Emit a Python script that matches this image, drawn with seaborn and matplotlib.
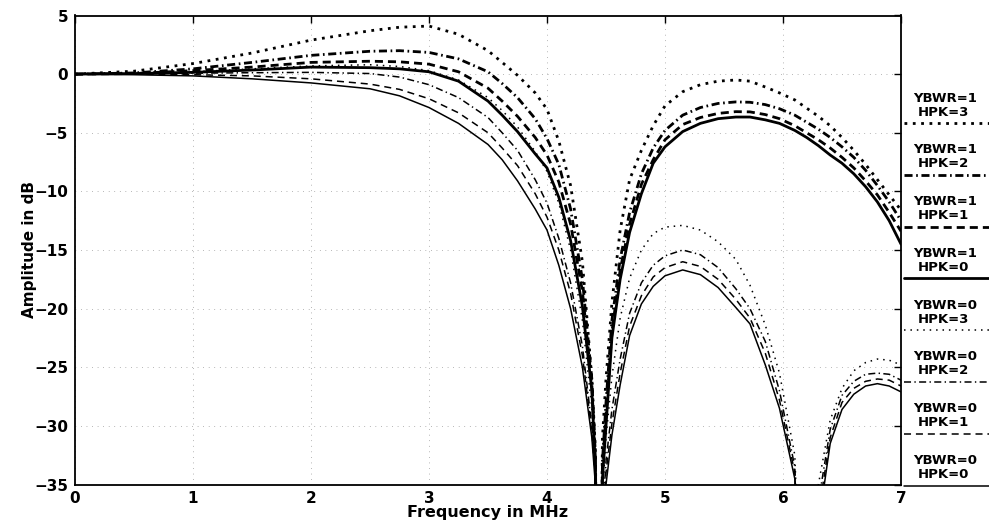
import matplotlib
matplotlib.use("Agg")
import matplotlib.pyplot as plt
import seaborn as sns
from matplotlib.lines import Line2D

# Frequency grid (MHz) shared by all responses
freq_mhz = [0.0, 0.5, 1.0, 1.5, 2.0, 2.5, 2.75, 3.0, 3.25, 3.5, 3.62, 3.75, 3.9, 4.0, 4.1,
            4.2, 4.3, 4.38, 4.41, 4.44, 4.47, 4.5, 4.55, 4.62, 4.7, 4.8, 4.9, 5.0, 5.15,
            5.3, 5.45, 5.6, 5.72, 5.85, 5.97, 6.1, 6.2, 6.3, 6.4, 6.5, 6.6, 6.7, 6.8,
            6.9, 7.0]

# Amplitude responses in dB (YBWR = bandwidth switch, HPK = peaking setting)
ybwr1_hpk3 = [0.0, 0.25, 0.9, 1.8, 2.9, 3.7, 4.0, 4.1, 3.4, 2.0, 1.0, -0.1, -1.6, -3.0, -5.7,
              -9.5, -16.0, -26.0, -32.0, -60.0, -31.0, -26.0, -19.5, -13.3, -9.0, -6.5,
              -4.4, -2.7, -1.5, -0.9, -0.6, -0.5, -0.6, -1.1, -1.6, -2.2, -2.9, -3.6,
              -4.4, -5.4, -6.5, -7.7, -9.0, -10.3, -11.6]
ybwr1_hpk2 = [0.0, 0.1, 0.45, 1.0, 1.6, 1.95, 2.0, 1.85, 1.3, 0.2, -0.8, -2.0, -3.8, -5.5, -7.7,
              -11.5, -17.5, -26.0, -32.5, -60.0, -33.0, -28.0, -21.0, -15.8, -11.8, -8.5,
              -6.3, -4.8, -3.5, -2.85, -2.5, -2.37, -2.4, -2.6, -2.95, -3.5, -4.1, -4.7,
              -5.4, -6.2, -7.1, -8.2, -9.5, -10.9, -12.5]
ybwr1_hpk1 = [0.0, 0.05, 0.3, 0.6, 1.0, 1.1, 1.05, 0.85, 0.2, -1.2, -2.3, -3.6, -5.4, -6.9, -9.2,
              -12.8, -18.5, -26.5, -33.0, -60.0, -33.5, -29.0, -22.0, -16.7, -12.8, -9.4,
              -7.3, -5.6, -4.3, -3.7, -3.35, -3.2, -3.22, -3.45, -3.8, -4.4, -5.0, -5.6,
              -6.3, -7.1, -8.0, -9.1, -10.3, -11.8, -13.4]
ybwr1_hpk0 = [0.0, 0.05, 0.15, 0.35, 0.6, 0.55, 0.45, 0.2, -0.6, -2.3, -3.5, -4.9, -6.8, -8.0,
              -10.5, -14.2, -19.8, -27.0, -33.5, -60.0, -34.5, -30.0, -22.5, -17.5, -13.5,
              -10.2, -7.6, -6.2, -4.9, -4.2, -3.8, -3.66, -3.66, -3.9, -4.2, -4.8, -5.4,
              -6.1, -6.9, -7.6, -8.5, -9.6, -10.9, -12.5, -14.5]
ybwr0_hpk3 = [0.0, 0.05, 0.2, 0.45, 0.7, 0.8, 0.65, 0.3, -0.5, -2.0, -3.1, -4.5, -6.6, -8.3,
              -11.0, -15.0, -21.0, -28.5, -33.0, -60.0, -36.0, -31.0, -25.8, -20.8, -17.4,
              -15.0, -13.6, -13.05, -12.9, -13.3, -14.3, -15.8, -18.0, -21.4, -25.5, -32.5,
              -60.0, -35.0, -29.5, -26.8, -25.3, -24.6, -24.3, -24.4, -24.8]
ybwr0_hpk2 = [0.0, 0.02, 0.08, 0.12, 0.15, 0.05, -0.25, -0.9, -2.0, -3.7, -5.0, -6.5, -9.0,
              -11.0, -14.0, -17.8, -23.2, -30.0, -34.0, -60.0, -38.0, -33.0, -28.6, -24.3,
              -20.4, -17.8, -16.3, -15.5, -15.0, -15.4, -16.5, -18.3, -20.0, -22.8, -27.0,
              -33.5, -60.0, -36.5, -30.3, -27.4, -26.2, -25.6, -25.5, -25.6, -26.1]
ybwr0_hpk1 = [0.0, 0.0, -0.05, -0.15, -0.4, -0.85, -1.3, -2.1, -3.3, -5.0, -6.3, -7.8, -10.2,
              -12.2, -15.0, -18.7, -24.0, -30.5, -34.5, -60.0, -39.0, -34.0, -29.8, -25.5,
              -21.5, -18.9, -17.3, -16.5, -16.0, -16.4, -17.5, -19.2, -20.8, -23.8, -27.8,
              -34.0, -60.0, -37.5, -31.0, -28.0, -26.8, -26.2, -26.0, -26.1, -26.6]
ybwr0_hpk0 = [0.0, -0.05, -0.15, -0.4, -0.75, -1.25, -1.85, -2.85, -4.2, -6.0, -7.3, -9.1,
              -11.5, -13.3, -16.3, -20.0, -25.0, -31.0, -35.0, -60.0, -40.0, -35.0, -30.8,
              -26.5, -22.3, -19.6, -18.1, -17.2, -16.7, -17.1, -18.2, -19.9, -21.3, -24.8,
              -28.5, -34.5, -60.0, -38.5, -31.5, -28.6, -27.3, -26.6, -26.4, -26.6, -27.1]

x_ticks = [0, 1, 2, 3, 4, 5, 6, 7]
y_ticks = [5, 0, -5, -10, -15, -20, -25, -30, -35]

# Line patterns: thick for YBWR=1, thin for YBWR=0
thick_dot = (0, (1.0, 2.0))
thick_dash = (0, (2.9, 1.8))
thick_dashdot = (0, (2.9, 1.3, 0.6, 1.3))
thin_dot = (0, (1.0, 3.2))
thin_dash = (0, (4.6, 3.2))
thin_dashdot = (0, (4.6, 2.2, 0.9, 2.2))

# (values, YBWR label, HPK label, line style, width)
curves = [
    (ybwr1_hpk3, "YBWR=1", "HPK=3", thick_dot, 2.0),
    (ybwr1_hpk2, "YBWR=1", "HPK=2", thick_dashdot, 2.0),
    (ybwr1_hpk1, "YBWR=1", "HPK=1", thick_dash, 2.0),
    (ybwr1_hpk0, "YBWR=1", "HPK=0", "-", 2.0),
    (ybwr0_hpk3, "YBWR=0", "HPK=3", thin_dot, 1.1),
    (ybwr0_hpk2, "YBWR=0", "HPK=2", thin_dashdot, 1.1),
    (ybwr0_hpk1, "YBWR=0", "HPK=1", thin_dash, 1.1),
    (ybwr0_hpk0, "YBWR=0", "HPK=0", "-", 1.1),
]

sns.set_style("white")
plt.rcParams["font.family"] = ["DejaVu Sans"]
plt.rcParams["font.weight"] = "bold"
plt.rcParams["axes.labelweight"] = "bold"
plt.rcParams["text.color"] = "black"
plt.rcParams["axes.labelcolor"] = "black"
plt.rcParams["xtick.color"] = "black"
plt.rcParams["ytick.color"] = "black"

W, H = 989, 523
fig = plt.figure(figsize=(W / 100, H / 100), dpi=100)
ax = fig.add_axes([75 / W, 1 - 484.5 / H, 826 / W, 469 / H])

for vals, _, _, ls, lw in curves:
    sns.lineplot(x=freq_mhz, y=vals, ax=ax, color="black", linewidth=lw,
                 linestyle=ls, estimator=None, sort=False, legend=False)

ax.set_xlim(0, 7)
ax.set_ylim(-35, 5)
ax.set_xticks(x_ticks)
ax.set_yticks(y_ticks)
ax.grid(True, linestyle=(0, (1, 7)), linewidth=0.5, color="0.45")
for side in ["left", "right", "top", "bottom"]:
    ax.spines[side].set_visible(True)
    ax.spines[side].set_color("black")
    ax.spines[side].set_linewidth(1.3)
ax.tick_params(direction="in", length=5, width=1.0, top=True, right=True,
               labelsize=11, pad=5, colors="black")
for lab in ax.get_xticklabels() + ax.get_yticklabels():
    lab.set_fontweight("bold")
ax.set_xlabel("Frequency in MHz", fontsize=11.5, fontweight="bold", labelpad=-1)
ax.set_ylabel("Amplitude in dB", fontsize=11, fontweight="bold", labelpad=-2)

# Key on the right: two-line label with a line sample underneath
for i, (_, yl, hl, ls, lw) in enumerate(curves):
    y_line = 123 + i * 51.8
    fig.text(945 / W, 1 - (y_line - 25) / H, yl, ha="center", va="center",
             fontsize=9.5, fontweight="bold", color="black")
    fig.text(943 / W, 1 - (y_line - 11) / H, hl, ha="center", va="center",
             fontsize=9.5, fontweight="bold", color="black")
    fig.add_artist(Line2D([904 / W, 989 / W], [1 - y_line / H, 1 - y_line / H],
                          transform=fig.transFigure, color="black",
                          linewidth=lw, linestyle=ls))

fig.savefig("out.png", dpi=100)
